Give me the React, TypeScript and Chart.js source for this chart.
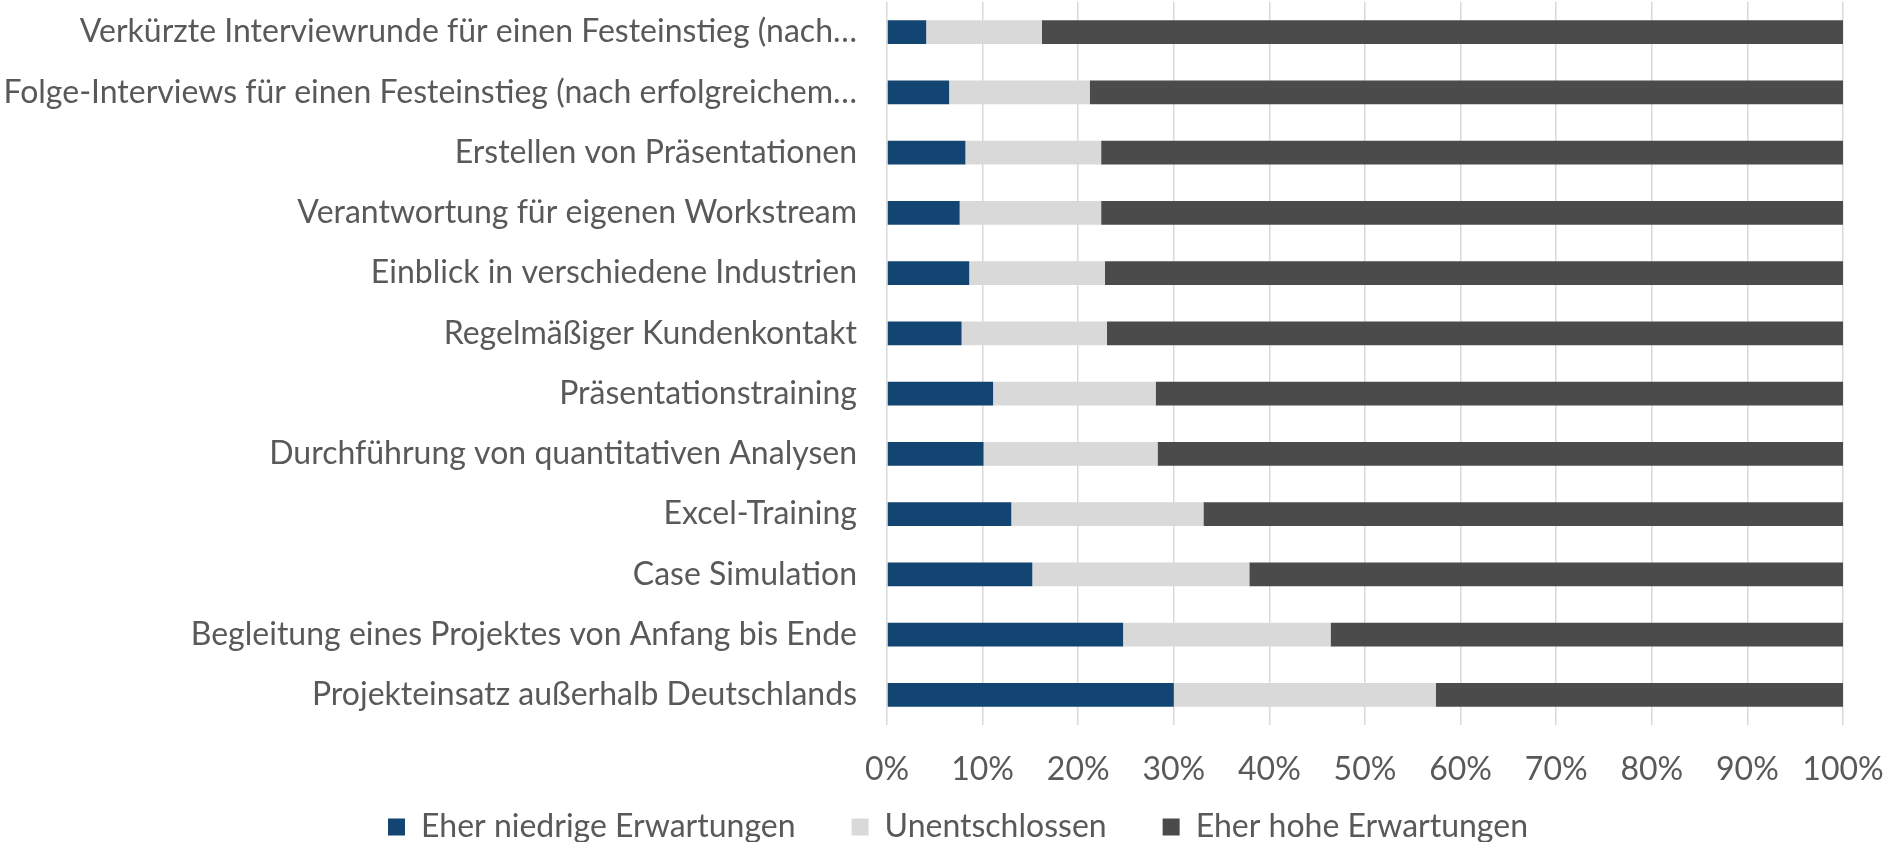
import React, { useEffect, useRef } from "react";
import { Chart, registerables } from "chart.js";

Chart.register(...registerables);

const categories: string[] = [
  "Verkürzte Interviewrunde für einen Festeinstieg (nach…",
  "Folge-Interviews für einen Festeinstieg (nach erfolgreichem…",
  "Erstellen von Präsentationen",
  "Verantwortung für eigenen Workstream",
  "Einblick in verschiedene Industrien",
  "Regelmäßiger Kundenkontakt",
  "Präsentationstraining",
  "Durchführung von quantitativen Analysen",
  "Excel-Training",
  "Case Simulation",
  "Begleitung eines Projektes von Anfang bis Ende",
  "Projekteinsatz außerhalb Deutschlands",
];

const niedrig: number[] = [4.1, 6.5, 8.2, 7.6, 8.6, 7.8, 11.1, 10.1, 13.0, 15.2, 24.7, 30.0];
const unentschlossen: number[] = [12.1, 14.7, 14.2, 14.8, 14.2, 15.2, 17.0, 18.2, 20.1, 22.7, 21.7, 27.4];
const hoch: number[] = [83.8, 78.8, 77.6, 77.6, 77.2, 77.0, 71.9, 71.7, 66.9, 62.1, 53.6, 42.6];

const seriesNames: string[] = ["Eher niedrige Erwartungen", "Unentschlossen", "Eher hohe Erwartungen"];
const xTicks: number[] = [0, 10, 20, 30, 40, 50, 60, 70, 80, 90, 100];

const FONT = "Lato, 'Open Sans', sans-serif";
const FS = 32;
const TEXT = "#595959";
const PAD_LEFT = 73;

export default function App() {
  const ref = useRef<HTMLCanvasElement | null>(null);

  useEffect(() => {
    if (!ref.current) return;
    const chart = new Chart(ref.current, {
      type: "bar",
      data: {
        labels: categories,
        datasets: [
          { label: seriesNames[0], data: niedrig, backgroundColor: "#134573", barPercentage: 0.393, categoryPercentage: 1 },
          { label: seriesNames[1], data: unentschlossen, backgroundColor: "#d9d9d9", barPercentage: 0.393, categoryPercentage: 1 },
          { label: seriesNames[2], data: hoch, backgroundColor: "#4b4b4b", barPercentage: 0.393, categoryPercentage: 1 },
        ],
      },
      options: {
        indexAxis: "y",
        responsive: false,
        animation: false,
        devicePixelRatio: 1,
        layout: { padding: { left: PAD_LEFT, right: 59, top: 2, bottom: 0 } },
        plugins: {
          tooltip: { enabled: false },
          legend: {
            position: "bottom",
            labels: {
              color: TEXT,
              font: { family: FONT, size: FS },
              boxWidth: 17,
              boxHeight: 17,
              padding: 56,
            },
          },
        },
        scales: {
          x: {
            stacked: true,
            min: 0,
            max: 100,
            afterBuildTicks: (scale: any) => {
              scale.ticks = xTicks.map((v) => ({ value: v }));
            },
            afterFit: (scale: any) => {
              scale.height = 30;
              scale.paddingLeft = 0;
              scale.paddingRight = 0;
              scale._computeLabelArea = () => undefined;
            },
            ticks: {
              color: TEXT,
              font: { family: FONT, size: FS },
              padding: 25,
              maxRotation: 0,
              autoSkip: false,
              callback: (v: any) => v + "%",
            },
            grid: { color: "#d9d9d9", lineWidth: 1.5, drawTicks: false },
            border: { display: false },
          },
          y: {
            stacked: true,
            afterFit: (scale: any) => {
              scale.width = 887 - PAD_LEFT;
              scale.paddingTop = 0;
              scale.paddingBottom = 0;
              scale._computeLabelArea = () => undefined;
            },
            ticks: {
              color: TEXT,
              font: { family: FONT, size: FS },
              padding: 30,
              autoSkip: false,
            },
            grid: { display: false, drawTicks: false },
            border: { display: false },
          },
        },
      },
    });
    return () => chart.destroy();
  }, []);

  return (
    <div style={{ position: "fixed", left: 0, top: 0, width: 1902, height: 842, overflow: "hidden", background: "#fff" }}>
      <canvas ref={ref} width={1902} height={853} style={{ display: "block" }} />
    </div>
  );
}
